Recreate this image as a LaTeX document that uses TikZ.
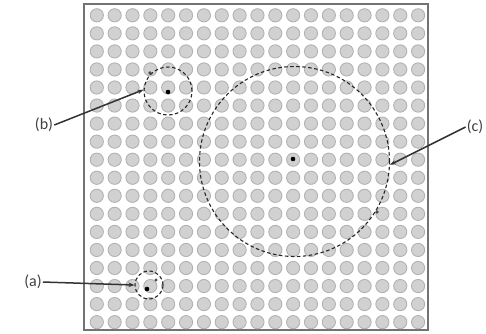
\documentclass[tikz,border=0pt]{standalone}
\usepackage{fontspec}
\setmainfont{Carlito}
\usetikzlibrary{arrows.meta}
\begin{document}
\begin{tikzpicture}[x=1pt,y=-1pt,
  cell/.style={fill=black!18,draw=black!30,line width=0.9pt},
  zone/.style={circle,draw=black!85,dashed,dash pattern=on 3.5pt off 2.5pt,line width=1.1pt,inner sep=0pt},
  lbl/.style={font=\fontsize{16}{19}\selectfont,text=black!75,inner sep=1pt},
  leader/.style={draw=black!80,line width=1.5pt,-{Stealth[length=6pt,width=4.5pt]}},
  ctrdot/.style={fill=black},
  nbdot/.style={fill=black!70}]
\useasboundingbox (0,0) rectangle (486,333);
% frame
\draw[black!55,line width=1.5pt] (84,4) rectangle (428,330);
% grid of cells
\foreach \i in {0,...,18}{
  \foreach \j in {0,...,17}{
    \filldraw[cell] ({96.8+17.85*\i},{15.3+18.05*\j}) circle (6.6);
  }
}
% zones
\node[zone,minimum size=48pt] (zb) at (168,91) {};
\node[zone,minimum size=28pt] (za) at (149,285) {};
\node[zone,minimum size=190pt] (zc) at (294.5,161.5) {};
% centre dots and neighbour marks
\fill[ctrdot] (168,92) circle (2.3);
\fill[ctrdot] (147,289) circle (2.3);
\fill[ctrdot] (293,159) circle (2.3);
\fill[nbdot] (150,73) circle (1.8);
\fill[nbdot] (156,280) circle (1.6);
\fill[nbdot] (377,212) circle (1.8);
% labels
\node[lbl] (la) at (33,282) {(a)};
\node[lbl] (lb) at (44,125) {(b)};
\node[lbl] (lc) at (475,127) {(c)};
% leaders
\draw[leader] (la.east) -- (za.180);
\draw[leader] (lb.east) -- (zb.177);
\draw[leader] (lc.west) -- (zc.358);
\end{tikzpicture}
\end{document}
